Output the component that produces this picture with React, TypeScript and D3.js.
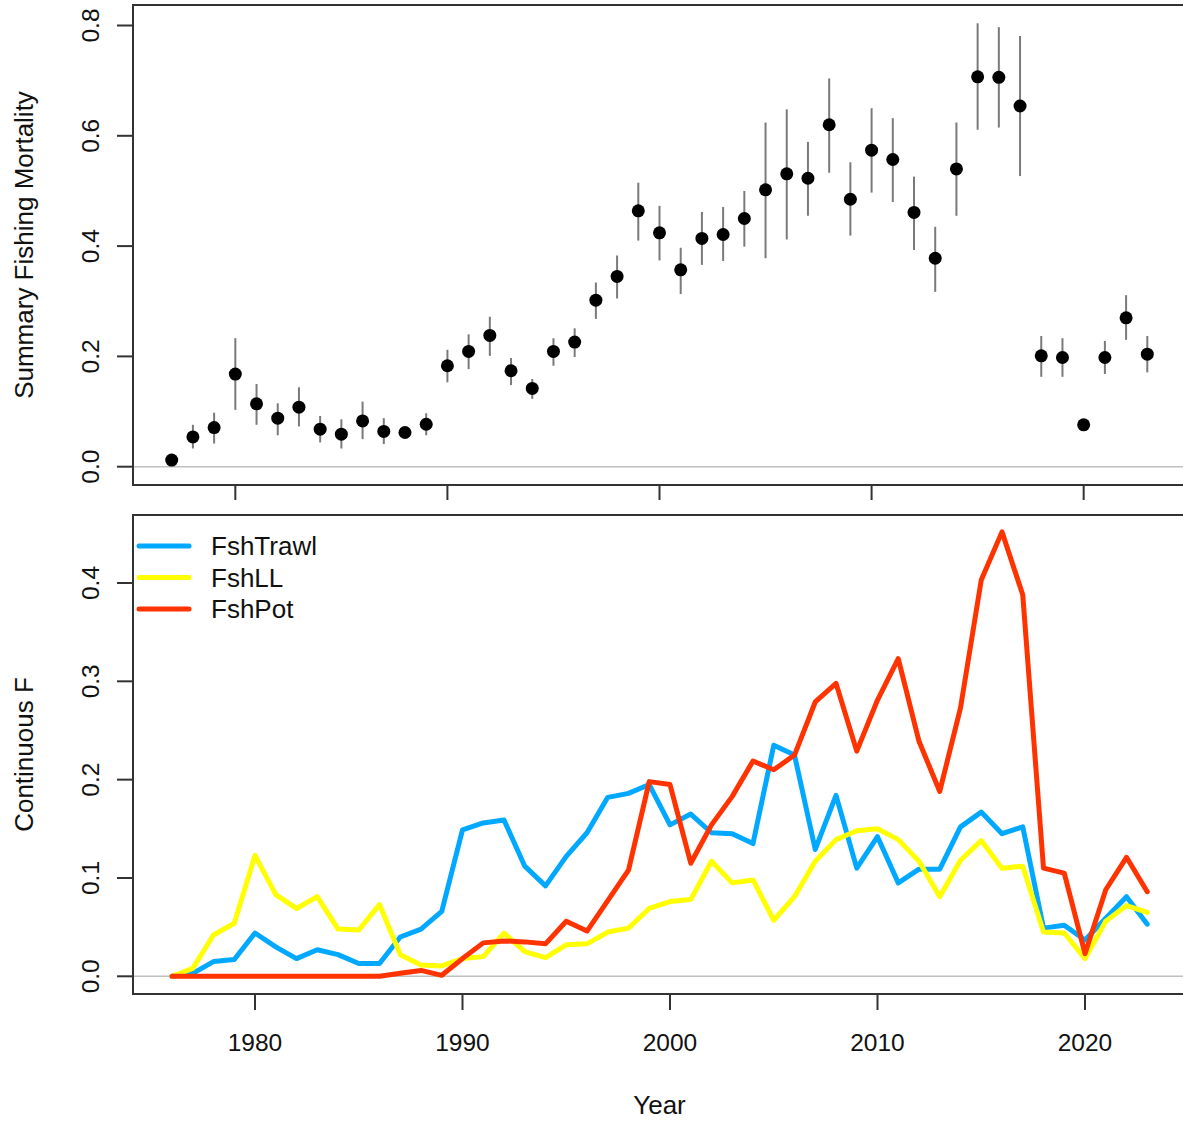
import * as d3 from "d3";

// top panel: summary fishing mortality with intervals
const sumYears = d3.range(1977, 2024);
const sumF = [
  0.012, 0.054, 0.071, 0.168, 0.114, 0.088, 0.108, 0.068, 0.059, 0.083,
  0.064, 0.062, 0.077, 0.183, 0.209, 0.238, 0.174, 0.142, 0.209, 0.226,
  0.302, 0.345, 0.464, 0.424, 0.357, 0.414, 0.421, 0.45, 0.502, 0.531,
  0.523, 0.62, 0.485, 0.574, 0.557, 0.461, 0.378, 0.54, 0.707, 0.706,
  0.654, 0.201, 0.198, 0.076, 0.198, 0.27, 0.204,
];
const sumLo = [
  0.008, 0.033, 0.042, 0.103, 0.076, 0.057, 0.073, 0.044, 0.033, 0.05,
  0.041, 0.055, 0.057, 0.153, 0.177, 0.201, 0.148, 0.123, 0.183, 0.199,
  0.268, 0.305, 0.41, 0.374, 0.313, 0.366, 0.373, 0.399, 0.378, 0.412,
  0.455, 0.533, 0.419, 0.497, 0.48, 0.393, 0.317, 0.455, 0.611, 0.615,
  0.527, 0.163, 0.163, 0.074, 0.168, 0.23, 0.171,
];
const sumHi = [
  0.016, 0.076, 0.098, 0.233, 0.15, 0.115, 0.144, 0.092, 0.086, 0.118,
  0.088, 0.069, 0.097, 0.212, 0.24, 0.272, 0.197, 0.159, 0.233, 0.251,
  0.334, 0.383, 0.515, 0.473, 0.397, 0.462, 0.471, 0.5, 0.624, 0.648,
  0.589, 0.704, 0.552, 0.65, 0.632, 0.526, 0.435, 0.624, 0.804, 0.797,
  0.781, 0.237, 0.233, 0.078, 0.228, 0.311, 0.237,
];
const topTicks = [0, 0.2, 0.4, 0.6, 0.8];
const topXTicks = [1980, 1990, 2000, 2010, 2020];

// bottom panel: continuous F by fleet
const fleetYears = d3.range(1976, 2024);
const fshTrawl = [
  0, 0.003, 0.015, 0.017, 0.044, 0.03, 0.018, 0.027, 0.022, 0.013,
  0.013, 0.04, 0.048, 0.066, 0.149, 0.156, 0.159, 0.112, 0.092, 0.122,
  0.146, 0.182, 0.186, 0.195, 0.154, 0.165, 0.146, 0.145, 0.135, 0.235,
  0.225, 0.129, 0.184, 0.11, 0.142, 0.095, 0.109, 0.109, 0.152, 0.167,
  0.145, 0.152, 0.049, 0.052, 0.037, 0.059, 0.081, 0.053,
];
const fshLL = [
  0, 0.008, 0.042, 0.054, 0.123, 0.083, 0.069, 0.081, 0.048, 0.047,
  0.073, 0.022, 0.0115, 0.0105, 0.018, 0.02, 0.044, 0.025, 0.019, 0.032,
  0.033, 0.045, 0.049, 0.069, 0.076, 0.078, 0.117, 0.095, 0.098, 0.057,
  0.081, 0.117, 0.139, 0.148, 0.15, 0.139, 0.117, 0.081, 0.118, 0.138,
  0.11, 0.112, 0.045, 0.044, 0.018, 0.056, 0.072, 0.065,
];
const fshPot = [
  0, 0, 0, 0, 0, 0, 0, 0, 0, 0,
  0, 0.003, 0.006, 0.001, 0.018, 0.034, 0.036, 0.035, 0.033, 0.056,
  0.046, 0.077, 0.108, 0.198, 0.195, 0.115, 0.154, 0.183, 0.219, 0.21,
  0.225, 0.279, 0.298, 0.229, 0.281, 0.323, 0.239, 0.188, 0.273, 0.403,
  0.452, 0.388, 0.11, 0.105, 0.023, 0.088, 0.121, 0.086,
];
const fleetNames = ["FshTrawl", "FshLL", "FshPot"];
const fleetColors = ["#00A9FF", "#FFFF00", "#FF3300"];
const botTicks = [0, 0.1, 0.2, 0.3, 0.4];
const botXTicks = [1980, 1990, 2000, 2010, 2020];

const W = 1183;
const H = 1124;
const left = 133;
const right = 1186;
const top1 = 5, bot1 = 485;
const top2 = 515, bot2 = 994;
const font = "'Liberation Sans', Arial, sans-serif";
const axisCol = "#333";

export default function App() {
  const x1 = d3.scaleLinear().domain([1977, 2023]).range([171.7, 1147.3]);
  const y1 = d3.scaleLinear().domain([0, 0.8]).range([466.7, 25.5]);
  const x2 = d3.scaleLinear().domain([1976, 2023]).range([172, 1147.25]);
  const y2 = d3.scaleLinear().domain([0, 0.4]).range([976.3, 583]);

  const series = [fshTrawl, fshLL, fshPot];
  const line = d3
    .line<number>()
    .x((_, i) => x2(fleetYears[i]))
    .y((d) => y2(d))
    .curve(d3.curveLinear);

  return (
    <div style={{ position: "absolute", left: 0, top: 0 }}>
      <svg width={W} height={H} style={{ display: "block", fontFamily: font }}>
        <rect x={0} y={0} width={W} height={H} fill="#fff" />

        {/* top panel */}
        <line x1={left} x2={right} y1={y1(0)} y2={y1(0)} stroke="#c0c0c0" strokeWidth={1.5} />
        {sumYears.map((yr, i) => (
          <g key={yr}>
            <line x1={x1(yr)} x2={x1(yr)} y1={y1(sumLo[i])} y2={y1(sumHi[i])} stroke="#7a7a7a" strokeWidth={2} />
            <circle cx={x1(yr)} cy={y1(sumF[i])} r={6.5} fill="#000" />
          </g>
        ))}
        <rect x={left} y={top1} width={right - left} height={bot1 - top1} fill="none" stroke={axisCol} strokeWidth={2} />
        {topTicks.map((t) => (
          <g key={t}>
            <line x1={left - 16} x2={left} y1={y1(t)} y2={y1(t)} stroke={axisCol} strokeWidth={2} />
            <text
              transform={`translate(99,${y1(t)}) rotate(-90)`}
              textAnchor="middle"
              fontSize={24.5}
              fill="#111"
            >
              {t.toFixed(1)}
            </text>
          </g>
        ))}
        {topXTicks.map((t) => (
          <line key={t} x1={x1(t)} x2={x1(t)} y1={bot1} y2={bot1 + 15} stroke={axisCol} strokeWidth={2} />
        ))}
        <text transform={`translate(33,${(top1 + bot1) / 2}) rotate(-90)`} textAnchor="middle" fontSize={26} fill="#111">
          Summary Fishing Mortality
        </text>

        {/* bottom panel */}
        <line x1={left} x2={right} y1={y2(0)} y2={y2(0)} stroke="#c0c0c0" strokeWidth={1.5} />
        {series.map((s, k) => (
          <path
            key={fleetNames[k]}
            d={line(s) ?? ""}
            fill="none"
            stroke={fleetColors[k]}
            strokeWidth={5}
            strokeLinejoin="round"
            strokeLinecap="round"
          />
        ))}
        <rect x={left} y={top2} width={right - left} height={bot2 - top2} fill="none" stroke={axisCol} strokeWidth={2} />
        {botTicks.map((t) => (
          <g key={t}>
            <line x1={left - 16} x2={left} y1={y2(t)} y2={y2(t)} stroke={axisCol} strokeWidth={2} />
            <text
              transform={`translate(99,${y2(t)}) rotate(-90)`}
              textAnchor="middle"
              fontSize={24.5}
              fill="#111"
            >
              {t.toFixed(1)}
            </text>
          </g>
        ))}
        {botXTicks.map((t) => (
          <g key={t}>
            <line x1={x2(t)} x2={x2(t)} y1={bot2} y2={bot2 + 16} stroke={axisCol} strokeWidth={2} />
            <text x={x2(t)} y={1051} textAnchor="middle" fontSize={24.5} fill="#111">
              {t}
            </text>
          </g>
        ))}
        <text transform={`translate(33,${(top2 + bot2) / 2}) rotate(-90)`} textAnchor="middle" fontSize={26} fill="#111">
          Continuous F
        </text>
        <text x={(left + right) / 2} y={1114} textAnchor="middle" fontSize={26} fill="#111">
          Year
        </text>

        {/* legend */}
        {fleetNames.map((n, k) => (
          <g key={n}>
            <line x1={139} x2={189} y1={546 + k * 31.5} y2={546 + k * 31.5} stroke={fleetColors[k]} strokeWidth={5} strokeLinecap="round" />
            <text x={211} y={546 + k * 31.5 + 9} fontSize={26} fill="#111">
              {n}
            </text>
          </g>
        ))}
      </svg>
    </div>
  );
}
